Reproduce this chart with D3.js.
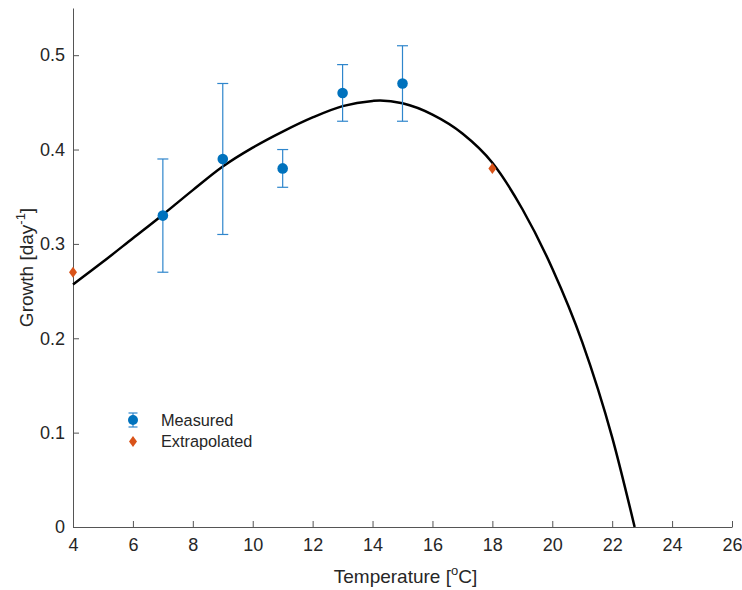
<!DOCTYPE html>
<html>
<head>
<meta charset="utf-8">
<script src="https://cdn.jsdelivr.net/npm/d3@7/dist/d3.min.js"></script>
<style>
  html, body { margin: 0; padding: 0; background: #fff; }
  svg { display: block; font-family: "Liberation Sans", Arial, Helvetica, sans-serif; }
</style>
</head>
<body>
<svg id="chart" width="742" height="590"></svg>
<script>
// ---- data ----
const measuredTemp = [7, 9, 11, 13, 15];
const measuredGrowth = [0.33, 0.39, 0.38, 0.46, 0.47];
const measuredLow = [0.27, 0.31, 0.36, 0.43, 0.43];
const measuredHigh = [0.39, 0.47, 0.40, 0.49, 0.51];

const extrapTemp = [4, 18];
const extrapGrowth = [0.27, 0.38];

const fitTemp = [4, 5, 6, 7, 8, 9, 10, 11, 12, 13, 14, 14.25, 15, 16, 17, 18, 19, 20, 21, 22, 22.75];
const fitGrowth = [0.257, 0.281, 0.306, 0.331, 0.357, 0.382, 0.402, 0.419, 0.434, 0.446, 0.4515, 0.452, 0.449, 0.437, 0.417, 0.386, 0.337, 0.274, 0.196, 0.095, 0.0];

const xTicks = [4, 6, 8, 10, 12, 14, 16, 18, 20, 22, 24, 26];
const yTicks = [0, 0.1, 0.2, 0.3, 0.4, 0.5];

(function () {
// ---- layout ----
const svg = d3.select("#chart");
const pLeft = 73, pRight = 732, pTop = 8, pBottom = 527;
const x = d3.scaleLinear().domain([4, 26]).range([pLeft, pRight]);
const y = d3.scaleLinear().domain([0, 0.55]).range([pBottom, pTop]);

const axisColor = "#262626";
const blue = "#0072BD";
const errBlue = "#2f86cc";
const orange = "#D95319";

// axes
const xAxis = d3.axisBottom(x).tickValues(xTicks).tickFormat(d3.format("d"))
  .tickSizeInner(-6).tickSizeOuter(0).tickPadding(11);
const yAxis = d3.axisLeft(y).tickValues(yTicks).tickFormat(d => d === 0 ? "0" : d3.format(".1f")(d))
  .tickSizeInner(-6).tickSizeOuter(0).tickPadding(8);

const gx = svg.append("g").attr("transform", `translate(0,${pBottom})`).call(xAxis);
const gy = svg.append("g").attr("transform", `translate(${pLeft},0)`).call(yAxis);
[gx, gy].forEach(g => {
  g.select(".domain").attr("stroke", "#555").attr("stroke-width", 1);
  g.selectAll(".tick line").attr("stroke", "#555");
  g.selectAll(".tick text").attr("fill", axisColor).style("font-size", "18px")
    .style("font-family", "'Liberation Sans', Arial, Helvetica, sans-serif");
});

// axis labels
const xl = svg.append("text")
  .attr("x", (pLeft + pRight) / 2 + 3).attr("y", 583)
  .attr("text-anchor", "middle").attr("fill", axisColor).style("font-size", "19px");
xl.append("tspan").text("Temperature [");
xl.append("tspan").attr("dy", -8).style("font-size", "13px").text("o");
xl.append("tspan").attr("dy", 8).text("C]");

const yl = svg.append("text")
  .attr("transform", `translate(33,${(pTop + pBottom) / 2}) rotate(-90)`)
  .attr("text-anchor", "middle").attr("fill", axisColor).style("font-size", "19px");
yl.append("tspan").text("Growth [day");
yl.append("tspan").attr("dy", -8).style("font-size", "13px").text("-1");
yl.append("tspan").attr("dy", 8).text("]");

// fitted curve
const fit = fitTemp.map((t, i) => [t, fitGrowth[i]]);
svg.append("path")
  .datum(fit)
  .attr("fill", "none").attr("stroke", "#000").attr("stroke-width", 2.5)
  .attr("d", d3.line().x(d => x(d[0])).y(d => y(d[1])).curve(d3.curveMonotoneX));

// error bars
const meas = measuredTemp.map((t, i) => ({ t, g: measuredGrowth[i], lo: measuredLow[i], hi: measuredHigh[i] }));
const eb = svg.append("g").attr("stroke", errBlue).attr("stroke-width", 1.2);
meas.forEach(d => {
  eb.append("line").attr("x1", x(d.t)).attr("x2", x(d.t)).attr("y1", y(d.lo)).attr("y2", y(d.hi));
  eb.append("line").attr("x1", x(d.t) - 5.5).attr("x2", x(d.t) + 5.5).attr("y1", y(d.lo)).attr("y2", y(d.lo));
  eb.append("line").attr("x1", x(d.t) - 5.5).attr("x2", x(d.t) + 5.5).attr("y1", y(d.hi)).attr("y2", y(d.hi));
});
svg.append("g").selectAll("circle").data(meas).join("circle")
  .attr("cx", d => x(d.t)).attr("cy", d => y(d.g)).attr("r", 5.3).attr("fill", blue);

// extrapolated diamonds
const diamond = (cx, cy) => `M${cx},${cy - 5.5}L${cx + 4},${cy}L${cx},${cy + 5.5}L${cx - 4},${cy}Z`;
svg.append("g").selectAll("path").data(extrapTemp.map((t, i) => [t, extrapGrowth[i]])).join("path")
  .attr("d", d => diamond(x(d[0]), y(d[1]))).attr("fill", orange);

// legend
const lg = svg.append("g");
const lx = 133, ly1 = 420, ly2 = 441.5;
lg.append("line").attr("x1", lx).attr("x2", lx).attr("y1", ly1 - 7).attr("y2", ly1 + 7).attr("stroke", errBlue).attr("stroke-width", 1.2);
lg.append("line").attr("x1", lx - 4.5).attr("x2", lx + 4.5).attr("y1", ly1 - 7).attr("y2", ly1 - 7).attr("stroke", errBlue).attr("stroke-width", 1.2);
lg.append("line").attr("x1", lx - 4.5).attr("x2", lx + 4.5).attr("y1", ly1 + 7).attr("y2", ly1 + 7).attr("stroke", errBlue).attr("stroke-width", 1.2);
lg.append("circle").attr("cx", lx).attr("cy", ly1).attr("r", 5).attr("fill", blue);
lg.append("path").attr("d", diamond(lx, ly2)).attr("fill", orange);
lg.append("text").attr("x", 161).attr("y", ly1).attr("dy", "0.35em").attr("fill", axisColor).style("font-size", "16.3px").text("Measured");
lg.append("text").attr("x", 161).attr("y", ly2).attr("dy", "0.35em").attr("fill", axisColor).style("font-size", "16.3px").text("Extrapolated");
})();
</script>
</body>
</html>
